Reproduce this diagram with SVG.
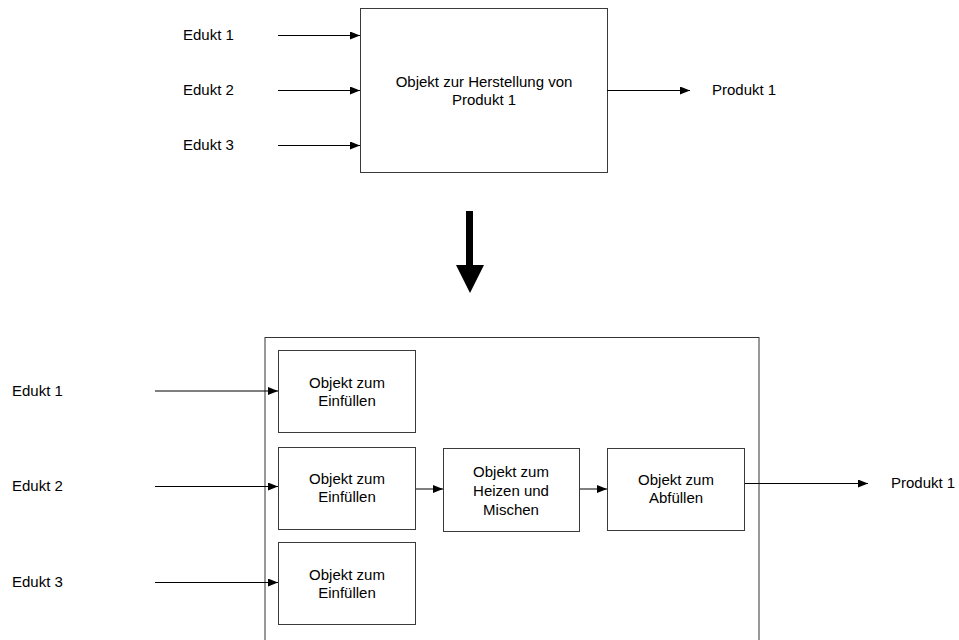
<svg xmlns="http://www.w3.org/2000/svg" width="959" height="640" viewBox="0 0 959 640">
<defs>
<marker id="ah" markerWidth="10" markerHeight="8" refX="10" refY="4" orient="auto" markerUnits="userSpaceOnUse">
<path d="M0,0 L10,4 L0,8 Z" fill="#000"/>
</marker>
<style>
text{font-family:"Liberation Sans",Arial,sans-serif;font-size:15px;fill:#000}
.c{text-anchor:middle}
.box{fill:#fff;stroke:#3a3a3a;stroke-width:1}
.con{fill:none;stroke:#000;stroke-width:1;marker-end:url(#ah)}
</style>
</defs>
<rect width="959" height="640" fill="#fff"/>
<g id="top-box"><rect class="box" x="360.5" y="8.5" width="247" height="164"/>
<text class="c" x="484" y="87">Objekt zur Herstellung von</text>
<text class="c" x="484" y="105">Produkt 1</text></g>
<g id="top-labels">
<text x="183" y="40">Edukt 1</text>
<text x="183" y="95">Edukt 2</text>
<text x="183" y="150">Edukt 3</text>
<text x="712" y="95">Produkt 1</text>
</g>
<g id="transform-arrow"><path d="M466,211 H473 V265 H484 L470,293 L456,265 H466 Z" fill="#000"/></g>
<g id="outer-box"><rect x="265" y="337.5" width="494" height="310" fill="none" stroke="#333" stroke-width="1"/></g>
<g id="fill1"><rect class="box" x="278.5" y="350.5" width="137" height="82"/>
<text class="c" x="347" y="388">Objekt zum</text><text class="c" x="347" y="406">Einfüllen</text></g>
<g id="fill2"><rect class="box" x="278.5" y="447.5" width="137" height="82"/>
<text class="c" x="347" y="484">Objekt zum</text><text class="c" x="347" y="502">Einfüllen</text></g>
<g id="fill3"><rect class="box" x="278.5" y="542.5" width="137" height="82"/>
<text class="c" x="347" y="580">Objekt zum</text><text class="c" x="347" y="598">Einfüllen</text></g>
<g id="heat"><rect class="box" x="443.5" y="448.5" width="136" height="83"/>
<text class="c" x="511" y="477">Objekt zum</text><text class="c" x="511" y="496">Heizen und</text><text class="c" x="511" y="515">Mischen</text></g>
<g id="bottle"><rect class="box" x="607.5" y="448.5" width="137" height="82"/>
<text class="c" x="676" y="485">Objekt zum</text><text class="c" x="676" y="503">Abfüllen</text></g>
<g id="bottom-labels">
<text x="12" y="396">Edukt 1</text>
<text x="12" y="491">Edukt 2</text>
<text x="12" y="587">Edukt 3</text>
<text x="891" y="488">Produkt 1</text>
</g>
<g id="connectors">
<line class="con" x1="278" y1="35.5" x2="360" y2="35.5"/>
<line class="con" x1="278" y1="90.5" x2="360" y2="90.5"/>
<line class="con" x1="278" y1="145.5" x2="360" y2="145.5"/>
<line class="con" x1="607" y1="90.5" x2="690" y2="90.5"/>
<line class="con" x1="155" y1="391" x2="278" y2="391"/>
<line class="con" x1="155" y1="486.5" x2="278" y2="486.5"/>
<line class="con" x1="155" y1="582.5" x2="278" y2="582.5"/>
<line class="con" x1="416" y1="489" x2="443" y2="489"/>
<line class="con" x1="580" y1="489" x2="607" y2="489"/>
<line class="con" x1="745" y1="483.5" x2="868" y2="483.5"/>
</g>
</svg>
